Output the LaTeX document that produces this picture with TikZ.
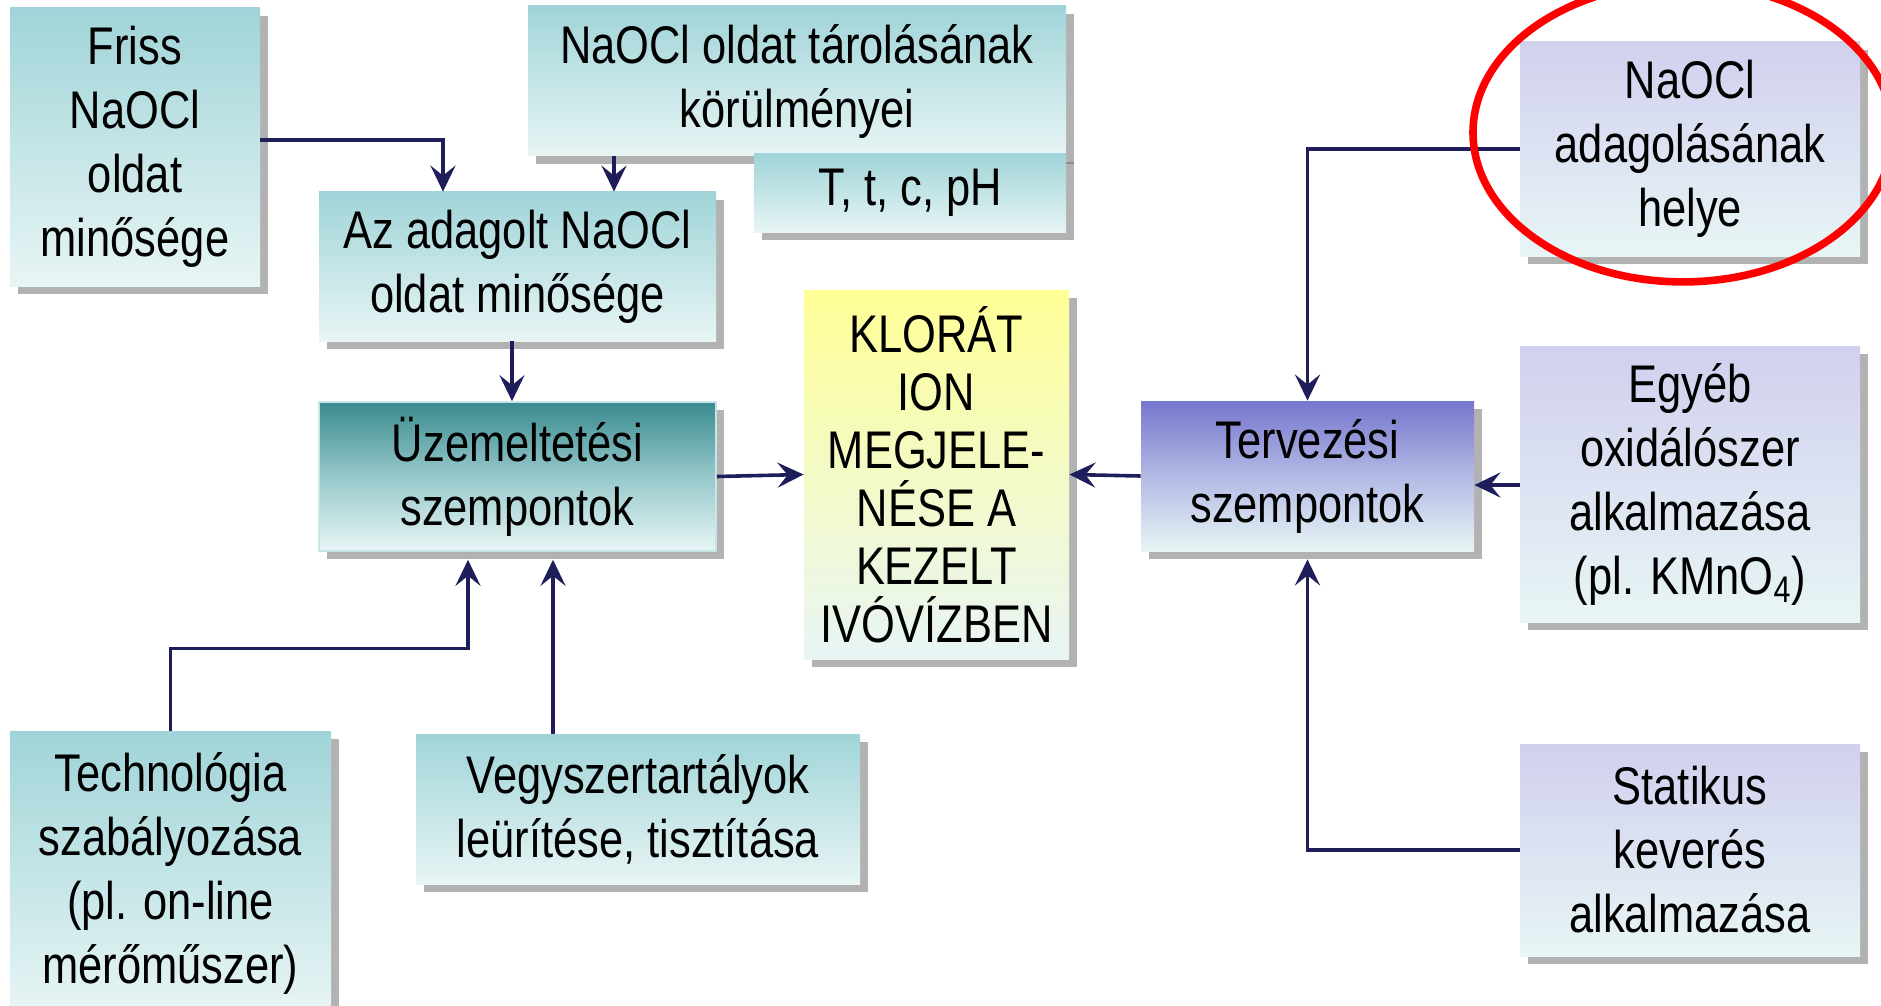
\documentclass[tikz,border=0pt]{standalone}
\usepackage{fontspec}
\setmainfont{Liberation Sans}[FakeStretch=0.82]
\usepackage{tikz}
\usetikzlibrary{arrows.meta, positioning, shadows}

\definecolor{tealtop}{RGB}{160,212,216}
\definecolor{boxbot}{RGB}{232,245,245}
\definecolor{lavtop}{RGB}{208,208,238}
\definecolor{uzemtop}{RGB}{58,139,143}
\definecolor{uzemmid}{RGB}{150,200,203}
\definecolor{tervtop}{RGB}{118,118,206}
\definecolor{tervmid}{RGB}{178,186,228}
\definecolor{kloratop}{RGB}{255,255,150}
\definecolor{navy}{RGB}{30,30,90}

\tikzset{
    box/.style={inner sep=0pt, align=center,
        font=\fontsize{26.5}{32}\selectfont,
        drop shadow={shadow xshift=4pt, shadow yshift=-4pt, fill=black!60, opacity=0.5}},
    tealbox/.style={box, top color=tealtop, bottom color=boxbot},
    lavbox/.style={box, top color=lavtop, bottom color=boxbot},
    conn/.style={draw=navy, line width=1.8pt, -{Stealth[length=13pt, width=12.5pt, inset=5pt]}}
}

\begin{document}
\begin{tikzpicture}[x=0.5pt, y=-0.5pt]
    \useasboundingbox (0,0) rectangle (1881,1006);

    % Left column
    \node[tealbox, minimum width=125pt, minimum height=139pt] (friss) at (135,147)
        {Friss\\NaOCl\\oldat\\minősége};
    \node[tealbox, minimum width=269pt, minimum height=75pt] (tarolas) at (797,81)
        {NaOCl oldat tárolásának\\körülményei};
    \node[tealbox, minimum width=156pt, minimum height=39pt] (param) at (910,193)
        {T, t, c, pH};
    \node[tealbox, minimum width=198.5pt, minimum height=74.5pt] (adagolt) at (517.5,266.5)
        {Az adagolt NaOCl\\oldat minősége};
    \node[box, draw=tealtop!60, line width=0.8pt, top color=uzemtop, bottom color=boxbot,
        middle color=uzemmid, minimum width=198.5pt, minimum height=74.5pt] (uzem) at (517.5,476.5)
        {Üzemeltetési\\szempontok};
    \node[tealbox, minimum width=160.5pt, minimum height=142pt] (techno) at (170.5,873)
        {Technológia\\szabályozása\\(pl. on-line\\mérőműszer)};
    \node[tealbox, minimum width=222pt, minimum height=75pt] (vegyszer) at (638,809)
        {Vegyszertartályok\\leürítése, tisztítása};

    % Middle
    \node[box, top color=kloratop, bottom color=boxbot, minimum width=132.5pt,
        minimum height=184.5pt, font=\fontsize{26.5}{29}\selectfont] (klorat) at (936.5,474.5)
        {KLORÁT\\ION\\MEGJELE-\\NÉSE A\\KEZELT\\IVÓVÍZBEN};

    % Right column
    \node[box, top color=tervtop, bottom color=boxbot, middle color=tervmid,
        minimum width=166.5pt, minimum height=75pt] (terv) at (1307.5,476)
        {Tervezési\\szempontok};
    \node[lavbox, minimum width=170pt, minimum height=107pt] (helye) at (1690,149)
        {NaOCl\\adagolásának\\helye};
    \node[lavbox, minimum width=170pt, minimum height=138pt] (egyeb) at (1690,484)
        {Egyéb\\oxidálószer\\alkalmazása\\(pl. KMnO\textsubscript{4})};
    \node[lavbox, minimum width=170pt, minimum height=106pt] (statikus) at (1690,850)
        {Statikus\\keverés\\alkalmazása};

    % Connectors
    \draw[conn] ([yshift=3.5pt]friss.east) -| ([xshift=-37.25pt]adagolt.north);
    \draw[conn] (tarolas.south) ++(-183,0) -- ([xshift=48.25pt]adagolt.north);
    \draw[conn] ([xshift=-2.75pt]adagolt.south) -- ([xshift=-2.75pt]uzem.north);
    \draw[conn] (uzem.east) -- (klorat.west);
    \draw[conn] (terv.west) -- (klorat.east);
    \draw[conn] (techno.north) -- ++(0,-82) -| ([xshift=-24.75pt, yshift=-4pt]uzem.south);
    \draw[conn] (vegyszer.north) ++(-85,0) -- ([xshift=17.75pt, yshift=-4pt]uzem.south);
    \draw[conn] (helye.west) -| (terv.north);
    \draw[conn] ([yshift=-0.5pt]egyeb.west) -- ([yshift=-4.5pt]terv.east);
    \draw[conn] (statikus.west) -| ([yshift=-4pt]terv.south);

    % Highlight
    \draw[red, line width=3.8pt] (1683,132.5) ellipse [x radius=105pt, y radius=74.7pt];
\end{tikzpicture}
\end{document}
